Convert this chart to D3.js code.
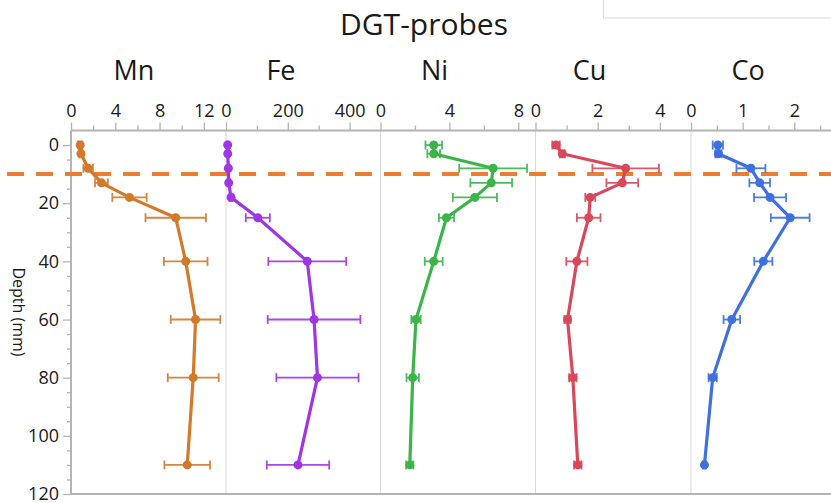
<!DOCTYPE html>
<html>
<head>
<meta charset="utf-8">
<script src="https://cdn.jsdelivr.net/npm/d3@7"></script>
<style>
  body { margin: 0; background: #fff; }
  text { font-family: "Open Sans", sans-serif; fill: #1a1a1a; }
</style>
</head>
<body>
<svg id="chart" width="831" height="503"></svg>
<script>
// depth of each DGT slice (mm)
const depth = [0, 3, 8, 13, 18, 25, 40, 60, 80, 110];

const elements = ['Mn', 'Fe', 'Ni', 'Cu', 'Co'];
const mn = [0.83, 0.9, 1.55, 2.75, 5.28, 9.46, 10.36, 11.25, 11.04, 10.5];
const mnErr = [0.18, 0.15, 0.43, 0.58, 1.55, 2.73, 1.97, 2.24, 2.3, 2.06];
const fe = [5.4, 5.6, 7.6, 8.7, 16.3, 103, 263, 285, 296, 233];
const feErr = [3, 3, 3, 3, 5, 39, 126, 150, 133, 101];
const ni = [3.09, 3.09, 6.54, 6.43, 5.48, 3.83, 3.09, 2.06, 1.87, 1.7];
const niErr = [0.48, 0.37, 1.97, 1.21, 1.28, 0.44, 0.52, 0.27, 0.36, 0.21];
const cu = [0.66, 0.86, 2.9, 2.79, 1.76, 1.71, 1.33, 1.03, 1.2, 1.36];
const cuErr = [0.12, 0.08, 1.07, 0.51, 0.16, 0.38, 0.34, 0.1, 0.12, 0.12];
const co = [0.52, 0.53, 1.16, 1.33, 1.53, 1.92, 1.4, 0.79, 0.42, 0.26];
const coErr = [0.1, 0.06, 0.28, 0.2, 0.31, 0.375, 0.175, 0.16, 0.08, 0.03];

// x domains and tick values per panel
const domains = [[0, 14], [0, 500], [0, 9], [0, 5], [0, 2.71]];
const majorTicks = [[0, 4, 8, 12], [0, 200, 400], [0, 4, 8], [0, 2, 4], [0, 1, 2]];
const minorTicks = [[2, 6, 10], [100, 300], [2, 6], [1, 3], [0.5, 1.5, 2.5]];
const depthTicks = [0, 20, 40, 60, 80, 100, 120];
const depthMinor = [5, 10, 15, 25, 30, 35, 45, 50, 55, 65, 70, 75, 85, 90, 95, 105, 110, 115];
const swiDepth = [10];

const values = [mn, fe, ni, cu, co];
const errors = [mnErr, feErr, niErr, cuErr, coErr];
const colors = ['#d2792a', '#a035e3', '#3bb54a', '#d9485a', '#3f70e0'];

const svg = d3.select('#chart');
const W = 831, H = 503;
const yTop = 130.5, yBottom = 494;
const edges = [71, 226, 380.5, 535.5, 691, 831];
const labelOffset = [63, 55, 54, 54, 57];
const axisGrey = '#b4b4b4';
const fmt = d3.format('~g');

// empty legend box cut at the top right
svg.append('rect')
    .attr('x', 603.5).attr('y', -5).attr('width', 240).attr('height', 23)
    .attr('fill', '#fff').attr('stroke', '#dcdcdc').attr('stroke-width', 1);

svg.append('text')
    .attr('x', 424).attr('y', 35)
    .attr('text-anchor', 'middle')
    .style('font-size', '30px')
    .text('DGT-probes');

const y = d3.scaleLinear().domain([-5, 120]).range([yTop, yBottom]);

// panel separators
svg.append('g').selectAll('line')
    .data(edges.slice(1, 5))
    .join('line')
    .attr('x1', d => d).attr('x2', d => d)
    .attr('y1', yTop).attr('y2', yBottom)
    .attr('stroke', '#d9d9d9').attr('stroke-width', 1);

// left depth axis
const yMinor = svg.append('g')
    .attr('transform', `translate(${edges[0]},0)`)
    .call(d3.axisLeft(y).tickValues(depthMinor).tickSize(4).tickFormat(''));
yMinor.select('.domain').remove();
yMinor.selectAll('line').attr('stroke', axisGrey).attr('stroke-width', 1.3);

const yAxis = svg.append('g')
    .attr('transform', `translate(${edges[0]},0)`)
    .call(d3.axisLeft(y).tickValues(depthTicks).tickSize(8).tickPadding(4).tickFormat(fmt));
yAxis.select('.domain').remove();
yAxis.selectAll('line').attr('stroke', axisGrey).attr('stroke-width', 1.3);
yAxis.selectAll('text').style('font-size', '18px').attr('fill', '#1a1a1a');

svg.append('text')
    .attr('transform', `translate(13,312) rotate(90)`)
    .attr('text-anchor', 'middle')
    .style('font-size', '16px')
    .text('Depth (mm)');

// axis frame lines
svg.append('line')
    .attr('x1', edges[0]).attr('x2', W).attr('y1', yTop).attr('y2', yTop)
    .attr('stroke', axisGrey).attr('stroke-width', 2);
svg.append('line')
    .attr('x1', edges[0]).attr('x2', W).attr('y1', yBottom).attr('y2', yBottom)
    .attr('stroke', axisGrey).attr('stroke-width', 2);
svg.append('line')
    .attr('x1', edges[0]).attr('x2', edges[0]).attr('y1', yTop).attr('y2', yBottom)
    .attr('stroke', axisGrey).attr('stroke-width', 2);

// sediment-water interface
svg.append('line')
    .attr('x1', 7).attr('x2', W)
    .attr('y1', y(swiDepth[0])).attr('y2', y(swiDepth[0]))
    .attr('stroke', '#ed7d31').attr('stroke-width', 4)
    .attr('stroke-dasharray', '17,12');

elements.forEach((name, k) => {
  const x = d3.scaleLinear().domain(domains[k]).range([edges[k], edges[k + 1]]);
  const pts = depth.map((d, i) => ({ d, v: values[k][i], e: errors[k][i] }));

  const minor = svg.append('g')
      .attr('transform', `translate(0,${yTop})`)
      .call(d3.axisTop(x).tickValues(minorTicks[k]).tickSize(5).tickFormat(''));
  minor.select('.domain').remove();
  minor.selectAll('line').attr('stroke', axisGrey).attr('stroke-width', 1.3);

  const ax = svg.append('g')
      .attr('transform', `translate(0,${yTop})`)
      .call(d3.axisTop(x).tickValues(majorTicks[k]).tickSize(8).tickPadding(6).tickFormat(fmt));
  ax.select('.domain').remove();
  ax.selectAll('line').attr('stroke', axisGrey).attr('stroke-width', 1.3);
  ax.selectAll('text').style('font-size', '18px').attr('fill', '#1a1a1a');

  svg.append('text')
      .attr('x', edges[k] + labelOffset[k]).attr('y', 80)
      .attr('text-anchor', 'middle')
      .style('font-size', '27px')
      .text(name);

  const g = svg.append('g');

  // error bars
  const eb = g.append('g')
      .attr('stroke', colors[k]).attr('stroke-width', 1.8).attr('opacity', 0.9);
  eb.selectAll('.bar').data(pts).join('line')
      .attr('x1', p => x(p.v - p.e)).attr('x2', p => x(p.v + p.e))
      .attr('y1', p => y(p.d)).attr('y2', p => y(p.d));
  eb.selectAll('.capl').data(pts).join('line')
      .attr('x1', p => x(p.v - p.e)).attr('x2', p => x(p.v - p.e))
      .attr('y1', p => y(p.d) - 4.5).attr('y2', p => y(p.d) + 4.5);
  eb.selectAll('.capr').data(pts).join('line')
      .attr('x1', p => x(p.v + p.e)).attr('x2', p => x(p.v + p.e))
      .attr('y1', p => y(p.d) - 4.5).attr('y2', p => y(p.d) + 4.5);

  const line = d3.line().x(p => x(p.v)).y(p => y(p.d));
  g.append('path')
      .datum(pts)
      .attr('fill', 'none')
      .attr('stroke', colors[k])
      .attr('stroke-width', 3.2)
      .attr('stroke-linejoin', 'round')
      .attr('d', line);

  g.selectAll('circle').data(pts).join('circle')
      .attr('cx', p => x(p.v)).attr('cy', p => y(p.d))
      .attr('r', 4.5)
      .attr('fill', colors[k]);
});
</script>
</body>
</html>
